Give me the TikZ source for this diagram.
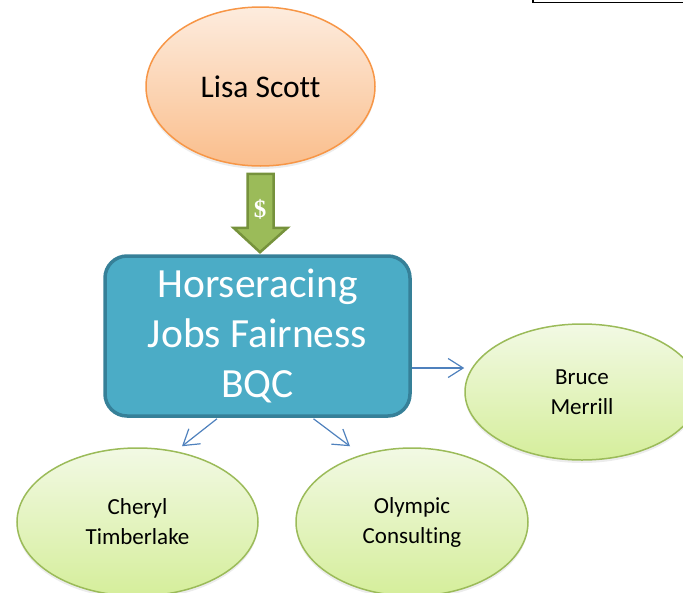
\documentclass[tikz,border=0pt]{standalone}
\usepackage{fontspec}
\setmainfont{Carlito}[Ligatures=NoCommon]
\newfontfamily\dollarfont{Liberation Serif}
\usetikzlibrary{arrows.meta,shadows,calc,shapes.geometric}
\definecolor{orgline}{HTML}{F79646}
\definecolor{orgtop}{RGB}{253,236,222}
\definecolor{orgbot}{RGB}{250,190,140}
\definecolor{grnline}{HTML}{9BBB59}
\definecolor{grntop}{RGB}{242,249,228}
\definecolor{grnbot}{RGB}{213,238,155}
\definecolor{boxfill}{HTML}{4BACC6}
\definecolor{boxline}{RGB}{54,128,152}
\definecolor{arrfill}{RGB}{155,187,89}
\definecolor{arrline}{RGB}{118,146,60}
\definecolor{conncol}{HTML}{4F81BD}
\tikzset{
  bubble/.style={ellipse, inner sep=0pt, line width=1.5pt,
    drop shadow={shadow xshift=0pt, shadow yshift=-3pt, opacity=0.15}},
  orangebubble/.style={bubble, draw=orgline, top color=orgtop, bottom color=orgbot,
    font=\fontsize{31.5}{36}\selectfont},
  greenbubble/.style={bubble, draw=grnline, top color=grntop, bottom color=grnbot,
    font=\fontsize{23}{30}\selectfont, align=center},
  mainbox/.style={rectangle, rounded corners=22pt, draw=boxline, line width=3.5pt,
    fill=boxfill, text=white, align=center, font=\fontsize{41.5}{50}\selectfont,
    minimum width=305pt, minimum height=160pt, inner sep=0pt},
  conn/.style={draw=conncol, line width=1.2pt, -{Straight Barb[length=15pt,width=19pt,line width=1.2pt]}},
  blockarrow/.style={fill=arrfill, draw=arrline, line width=2.5pt, line join=miter}
}
\begin{document}
\begin{tikzpicture}[x=1pt,y=-1pt]
\useasboundingbox (0,0) rectangle (683,592);
% top-right corner of a frame
\draw[line width=1.5pt] (533,0) -- (533,2.5) -- (683,2.5);

\node[orangebubble, minimum width=229pt, minimum height=159pt] (lisa) at (260.5,86.5) {Lisa Scott};

\node[mainbox] (box) at (257.5,336) {\raisebox{-3pt}{\parbox{300pt}{\centering Horseracing\\Jobs Fairness\\BQC}}};

\node[greenbubble, minimum width=234pt, minimum height=136pt] (bruce) at (582,392) {Bruce\\Merrill};
\node[greenbubble, minimum width=241pt, minimum height=148pt] (cheryl) at (137.5,522) {Cheryl\\Timberlake};
\node[greenbubble, minimum width=232pt, minimum height=148pt] (olympic) at (412,522) {Olympic\\Consulting};

% block arrow from Lisa Scott to the box
\coordinate (atop) at ($(lisa.south)+(0,7)$);
\draw[blockarrow] ($(atop)+(-13,0)$) -- ($(atop)+(13,0)$) -- ($(atop)+(13,54)$)
  -- ($(atop)+(27,54)$) -- ($(box.north)+(2.5,-2)$) -- ($(atop)+(-27,54)$)
  -- ($(atop)+(-13,54)$) -- cycle;
\node[text=white, font=\dollarfont\bfseries\fontsize{25}{25}\selectfont] (dollar) at ($(atop)+(-0.5,36)$) {\$};

% connectors
\draw[conn] ([yshift=-32pt]box.east) -- ([yshift=-32pt]box.east -| bruce.west);
\draw[conn] ([xshift=-40.5pt,yshift=-1pt]box.south) -- ([xshift=44.5pt,yshift=1pt]cheryl.north);
\draw[conn] ([xshift=56pt,yshift=-1pt]box.south) -- ([xshift=-62pt,yshift=1pt]olympic.north);
\end{tikzpicture}
\end{document}
